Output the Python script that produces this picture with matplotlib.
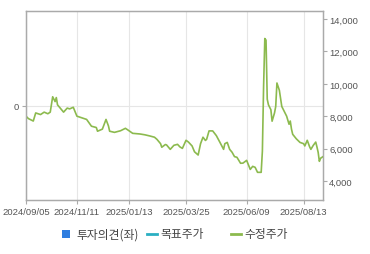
import matplotlib
matplotlib.use("Agg")
import matplotlib.pyplot as plt
from matplotlib.lines import Line2D
from matplotlib.patches import Rectangle

plt.rcParams['font.family'] = ['Liberation Sans', 'DejaVu Sans']

# trading-day index and adjusted close (수정주가)
DAY_IDX = [0, 2, 6, 8, 12, 15, 18, 20, 22, 24, 25, 26, 31, 34, 36, 39, 42, 46, 50,
           54, 58, 59, 63, 66, 68, 69, 73, 78, 82, 84, 88, 94, 98, 102, 106, 108,
           111, 112, 115, 116, 119, 122, 125, 127, 129, 132, 134, 137, 139, 142,
           144, 146, 148, 149, 151, 154, 157, 160, 163, 164, 166, 168, 170, 172,
           174, 177, 179, 182, 185, 187, 189, 191, 194, 195, 196, 197, 198, 199,
           200, 202, 203, 205, 206, 207, 209, 211, 213, 215, 217, 218, 219, 220,
           223, 226, 229, 230, 232, 234, 235, 237, 239, 240, 241, 242, 243, 245]
PRICE = [8000, 7850, 7700, 8200, 8100, 8250, 8150, 8250, 9200, 8900, 9150, 8700,
         8250, 8500, 8450, 8550, 8000, 7900, 7800, 7380, 7300, 7070, 7200, 7800,
         7400, 7070, 7000, 7100, 7250, 7150, 6940, 6900, 6850, 6780, 6700, 6570,
         6300, 6080, 6250, 6220, 5950, 6200, 6260, 6100, 6010, 6510, 6400, 6160,
         5800, 5600, 6300, 6700, 6500, 6570, 7090, 7090, 6800, 6380, 5950, 6300,
         6380, 5950, 5770, 5500, 5460, 5090, 5100, 5270, 4710, 4900, 4840, 4530,
         4530, 5840, 9850, 12800, 12700, 9050, 8700, 8400, 7690, 8200, 8600, 10050,
         9600, 8600, 8300, 8000, 7500, 7700, 7200, 6880, 6600, 6380, 6300, 6160,
         6510, 6100, 5950, 6200, 6400, 6100, 5770, 5210, 5400, 5500]

TICK_IDX = [0, 42, 85, 132, 182, 229]
TICK_LABELS = ["2024/09/05", "2024/11/11", "2025/01/13", "2025/03/25", "2025/06/09", "2025/08/13"]
PRICE_TICKS = [4000, 6000, 8000, 10000, 12000, 14000]
LEGEND_LABELS = ["투자의견(좌)", "목표주가", "수정주가"]

GREEN = "#8cba4e"
GRID = "#e6e6e6"
SPINE = "#aaaaaa"
KR = ['Noto Sans CJK KR', 'DejaVu Sans']

fig = plt.figure(figsize=(3.7, 2.55), dpi=100)
ax = fig.add_axes([26/370, 1 - 201/255, 297/370, 189/255])
ax.set_xlim(0, 245)
ax.set_ylim(-1, 1)
ax.set_yticks([0])
ax.set_yticklabels(["0"])
ax.set_xticks(TICK_IDX)
ax.set_xticklabels(TICK_LABELS)
ax.grid(True, color=GRID, linewidth=0.8)
ax.set_axisbelow(True)
for s in ax.spines.values():
    s.set_color(SPINE)
    s.set_linewidth(0.9)
ax.tick_params(axis='both', colors=SPINE, labelcolor="#555555", labelsize=6.8, length=3, width=0.8, pad=2)

ax2 = ax.twinx()
ax2.plot(DAY_IDX, PRICE, color=GREEN, linewidth=1.2)
ax2.set_ylim(2820, 14500)
ax2.set_yticks(PRICE_TICKS)
ax2.set_yticklabels([f"{v:,}" for v in PRICE_TICKS])
ax2.tick_params(axis='y', colors=SPINE, labelcolor="#555555", labelsize=6.8, length=3, width=0.8, pad=1.5)
for s in ax2.spines.values():
    s.set_color(SPINE)
    s.set_linewidth(0.9)
ax2.set_xlim(0, 245)

# legend drawn by hand (uneven item spacing in the original)
W, H = 370.0, 255.0
ly = 1 - 235/H
fig.add_artist(Rectangle((62/W, 1 - 239/H), 8/W, 8/H, transform=fig.transFigure,
                         facecolor="#2f7ee0", edgecolor="none"))
fig.text(76/W, ly, LEGEND_LABELS[0], fontsize=8.5, color="#444444", va="center", family=KR)
fig.add_artist(Line2D([147/W, 157/W], [ly, ly], transform=fig.transFigure, color="#2aafc2", linewidth=2))
fig.text(160/W, ly, LEGEND_LABELS[1], fontsize=8.5, color="#444444", va="center", family=KR)
fig.add_artist(Line2D([231/W, 241/W], [ly, ly], transform=fig.transFigure, color=GREEN, linewidth=2))
fig.text(244/W, ly, LEGEND_LABELS[2], fontsize=8.5, color="#444444", va="center", family=KR)

fig.savefig("out.png", dpi=100)
